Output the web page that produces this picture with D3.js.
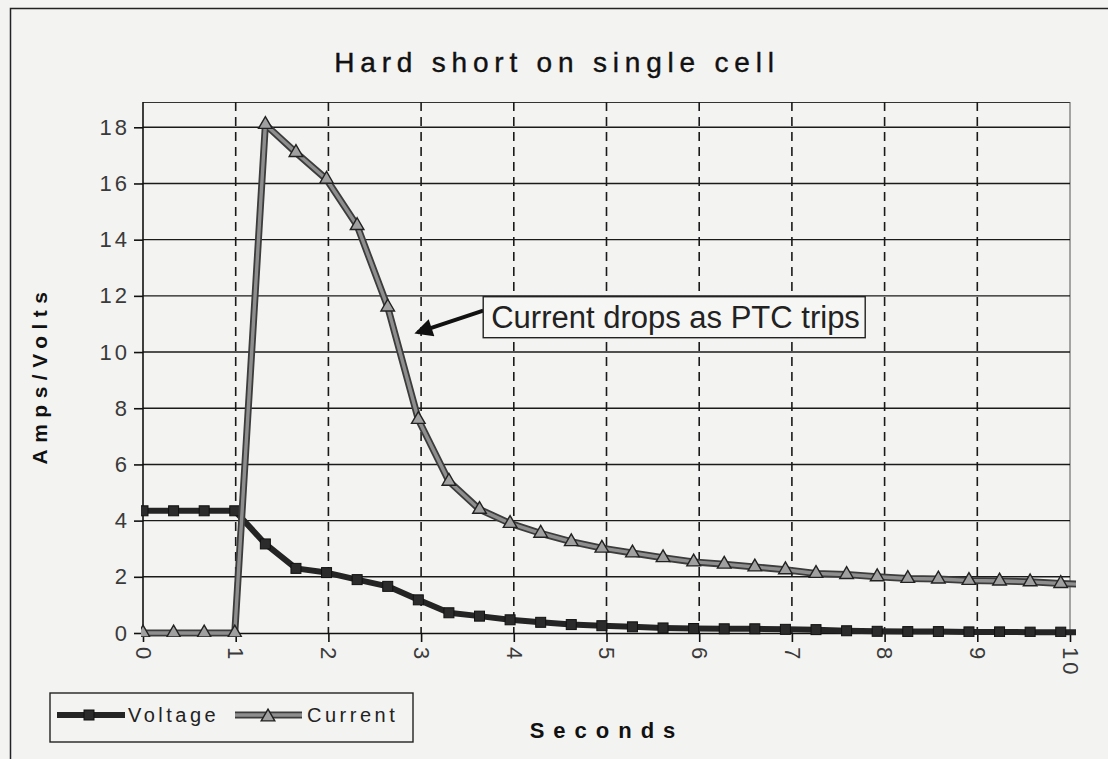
<!DOCTYPE html>
<html>
<head>
<meta charset="utf-8">
<script src="https://cdn.jsdelivr.net/npm/d3@7"></script>
<style>
  body { margin: 0; background: #f3f3f1; }
  svg { display: block; font-family: Arial, "Liberation Sans", sans-serif; }
</style>
</head>
<body>
<svg id="chart"></svg>
<script>
// sample times (s), one reading roughly every third of a second
const seconds = [0, 0.33, 0.66, 0.99, 1.32, 1.65, 1.98, 2.31, 2.64, 2.97, 3.3, 3.63, 3.96, 4.29, 4.62, 4.95,
  5.28, 5.61, 5.94, 6.27, 6.6, 6.93, 7.26, 7.59, 7.92, 8.25, 8.58, 8.91, 9.24, 9.57, 9.9, 10.23];
const voltage = [4.35, 4.35, 4.35, 4.35, 3.17, 2.3, 2.15, 1.9, 1.66, 1.18, 0.72, 0.6, 0.47, 0.38, 0.3, 0.26,
  0.22, 0.18, 0.16, 0.15, 0.15, 0.13, 0.12, 0.08, 0.06, 0.05, 0.05, 0.04, 0.04, 0.03, 0.03, 0.03];
const current = [0, 0, 0, 0, 18.1, 17.1, 16.15, 14.5, 11.6, 7.6, 5.4, 4.4, 3.9, 3.55, 3.25, 3.02,
  2.85, 2.68, 2.53, 2.45, 2.35, 2.25, 2.12, 2.08, 2.0, 1.94, 1.92, 1.87, 1.85, 1.82, 1.76, 1.72];
const xTicks = [0, 1, 2, 3, 4, 5, 6, 7, 8, 9, 10];
const yTicks = [0, 2, 4, 6, 8, 10, 12, 14, 16, 18];

const width = 1108, height = 759;
const margin = { top: 102, right: 38, bottom: 126, left: 143 };
const plotW = width - margin.left - margin.right;
const plotH = height - margin.top - margin.bottom;

const svg = d3.select("#chart").attr("width", width).attr("height", height);

svg.append("rect").attr("width", width).attr("height", height).attr("fill", "#f3f3f1");
svg.append("rect")
  .attr("x", 10.5).attr("y", 8.5).attr("width", 1130).attr("height", 770)
  .attr("fill", "none").attr("stroke", "#222").attr("stroke-width", 1.5);

svg.append("text")
  .attr("x", 557).attr("y", 72)
  .attr("text-anchor", "middle")
  .attr("font-size", 28).attr("letter-spacing", 5.8).attr("fill", "#111")
  .attr("stroke", "#111").attr("stroke-width", 0.4)
  .text("Hard short on single cell");

const x = d3.scaleLinear().domain([0, 10]).range([0, plotW]);
const y = d3.scaleLinear().domain([0, 18.9]).range([plotH, 0]);

const g = svg.append("g").attr("transform", `translate(${margin.left},${margin.top})`);

// plot frame: top and right edges are thin
g.append("line").attr("x1", 0).attr("x2", plotW).attr("y1", 0.5).attr("y2", 0.5)
  .attr("stroke", "#333").attr("stroke-width", 1);
g.append("line").attr("x1", plotW).attr("x2", plotW).attr("y1", 0).attr("y2", plotH)
  .attr("stroke", "#555").attr("stroke-width", 1);

// horizontal solid grid
g.selectAll(".hgrid")
  .data(yTicks.filter(d => d > 0))
  .join("line")
  .attr("class", "hgrid")
  .attr("x1", 0).attr("x2", plotW)
  .attr("y1", d => y(d)).attr("y2", d => y(d))
  .attr("stroke", "#1a1a1a").attr("stroke-width", 1.4);

// vertical dashed grid
g.selectAll(".vgrid")
  .data(xTicks.filter(d => d > 0 && d < 10))
  .join("line")
  .attr("class", "vgrid")
  .attr("x1", d => x(d)).attr("x2", d => x(d))
  .attr("y1", 0).attr("y2", plotH)
  .attr("stroke", "#1a1a1a").attr("stroke-width", 1.6)
  .attr("stroke-dasharray", "9,6");

// axes
const yAxis = g.append("g")
  .call(d3.axisLeft(y).tickValues(yTicks).tickSize(9).tickSizeOuter(0).tickPadding(4));
const xAxis = g.append("g")
  .attr("transform", `translate(0,${plotH})`)
  .call(d3.axisBottom(x).tickValues(xTicks).tickSize(9).tickSizeOuter(0));

[yAxis, xAxis].forEach(a => {
  a.select(".domain").attr("stroke", "#111").attr("stroke-width", 1.6);
  a.selectAll(".tick line").attr("stroke", "#111").attr("stroke-width", 1.6);
  a.selectAll(".tick text")
    .attr("font-size", 22).attr("letter-spacing", 3).attr("fill", "#3a3a3a")
    .attr("font-family", "Arial, 'Liberation Sans', sans-serif");
});
yAxis.select(".domain").attr("d", `M0,0V${plotH}`);

xAxis.selectAll(".tick text")
  .attr("x", 14).attr("y", 0).attr("dy", "0.35em")
  .attr("text-anchor", "start")
  .attr("transform", "rotate(90)");

// series
const clipId = "plotclip";
svg.append("defs").append("clipPath").attr("id", clipId)
  .append("rect").attr("x", -2).attr("y", -4).attr("width", plotW + 8).attr("height", plotH + 8);

const line = vals => d3.line()
  .x((d, i) => x(seconds[i]))
  .y(d => y(d))(vals);

const series = g.append("g").attr("clip-path", `url(#${clipId})`);

series.append("path").attr("d", line(voltage))
  .attr("fill", "none").attr("stroke", "#242424").attr("stroke-width", 6)
  .attr("stroke-linejoin", "round");
series.selectAll(".vmark")
  .data(voltage)
  .join("rect")
  .attr("class", "vmark")
  .attr("x", (d, i) => x(seconds[i]) - 5).attr("y", d => y(d) - 5)
  .attr("width", 10).attr("height", 10)
  .attr("fill", "#2b2b2b").attr("stroke", "#111").attr("stroke-width", 1);

series.append("path").attr("d", line(current))
  .attr("fill", "none").attr("stroke", "#3c3c3c").attr("stroke-width", 7)
  .attr("stroke-linejoin", "round");
series.append("path").attr("d", line(current))
  .attr("fill", "none").attr("stroke", "#8e8e8e").attr("stroke-width", 3.4)
  .attr("stroke-linejoin", "round");
series.selectAll(".cmark")
  .data(current)
  .join("path")
  .attr("class", "cmark")
  .attr("transform", (d, i) => `translate(${x(seconds[i])},${y(d)})`)
  .attr("d", d3.symbol(d3.symbolTriangle, 80))
  .attr("fill", "#a0a0a0").attr("stroke", "#222").attr("stroke-width", 1.4);

// annotation
const noteTip = [2.9, 10.63];
const noteBox = [3.67, 11.97];
svg.append("defs").append("marker")
  .attr("id", "arrowhead").attr("viewBox", "0 0 10 10")
  .attr("refX", 8).attr("refY", 5)
  .attr("markerWidth", 5).attr("markerHeight", 4.5).attr("orient", "auto")
  .append("path").attr("d", "M0,0L10,5L0,10z").attr("fill", "#111");

const bx = x(noteBox[0]), by = y(noteBox[1]);
g.append("line")
  .attr("x1", bx).attr("y1", by + 14)
  .attr("x2", x(noteTip[0]) + 6).attr("y2", y(noteTip[1]) - 2)
  .attr("stroke", "#111").attr("stroke-width", 4)
  .attr("marker-end", "url(#arrowhead)");
g.append("rect")
  .attr("x", bx).attr("y", by).attr("width", 382).attr("height", 41)
  .attr("fill", "#f6f6f4").attr("stroke", "#222").attr("stroke-width", 1.4);
g.append("text")
  .attr("x", bx + 8).attr("y", by + 31)
  .attr("font-size", 31).attr("fill", "#222")
  .text("Current drops as PTC trips");

// axis titles
svg.append("text")
  .attr("transform", "translate(47,375) rotate(-90)")
  .attr("text-anchor", "middle")
  .attr("font-size", 21).attr("font-weight", "bold").attr("letter-spacing", 6.5).attr("fill", "#111")
  .text("Amps/Volts");
svg.append("text")
  .attr("x", 607).attr("y", 738)
  .attr("text-anchor", "middle")
  .attr("font-size", 22).attr("font-weight", "bold").attr("letter-spacing", 9).attr("fill", "#111")
  .text("Seconds");

// legend
const legend = svg.append("g").attr("transform", "translate(50,693)");
legend.append("rect").attr("width", 363).attr("height", 49)
  .attr("fill", "none").attr("stroke", "#222").attr("stroke-width", 1.4);

legend.append("line").attr("x1", 7).attr("x2", 75).attr("y1", 22).attr("y2", 22)
  .attr("stroke", "#242424").attr("stroke-width", 6);
legend.append("rect").attr("x", 34).attr("y", 17).attr("width", 10).attr("height", 10)
  .attr("fill", "#2b2b2b").attr("stroke", "#111");
legend.append("text").attr("x", 78).attr("y", 29)
  .attr("font-size", 20).attr("letter-spacing", 3.5).attr("fill", "#222")
  .text("Voltage");

legend.append("line").attr("x1", 185).attr("x2", 252).attr("y1", 22).attr("y2", 22)
  .attr("stroke", "#3c3c3c").attr("stroke-width", 7);
legend.append("line").attr("x1", 185).attr("x2", 252).attr("y1", 22).attr("y2", 22)
  .attr("stroke", "#8e8e8e").attr("stroke-width", 3.4);
legend.append("path")
  .attr("transform", "translate(218,24)")
  .attr("d", d3.symbol(d3.symbolTriangle, 80))
  .attr("fill", "#a0a0a0").attr("stroke", "#222").attr("stroke-width", 1.4);
legend.append("text").attr("x", 257).attr("y", 29)
  .attr("font-size", 20).attr("letter-spacing", 3.5).attr("fill", "#222")
  .text("Current");
</script>
</body>
</html>
